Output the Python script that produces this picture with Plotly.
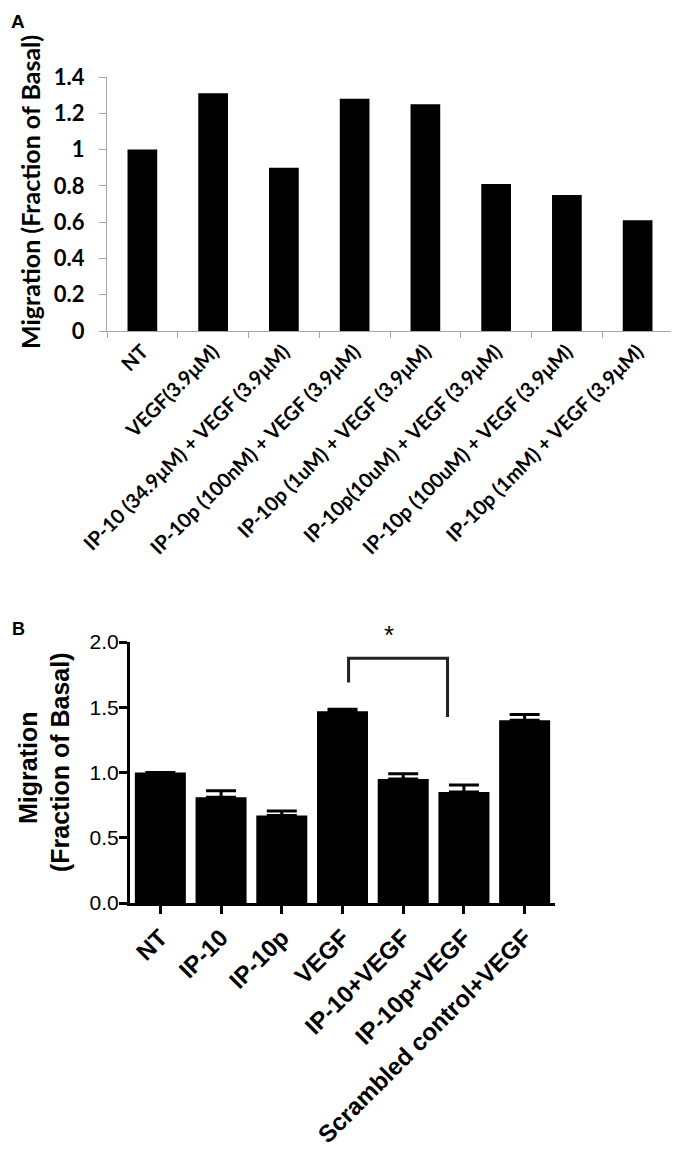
import plotly.graph_objects as go

# ---------------- data ----------------
cats_a = ["NT", "VEGF(3.9μM)", "IP-10 (34.9μM) + VEGF (3.9μM)",
          "IP-10p (100nM) + VEGF (3.9μM)", "IP-10p (1uM) + VEGF (3.9μM)",
          "IP-10p(10uM) + VEGF (3.9μM)", "IP-10p (100uM) + VEGF (3.9μM)",
          "IP-10p (1mM) + VEGF (3.9μM)"]
vals_a = [1.00, 1.31, 0.90, 1.28, 1.25, 0.81, 0.75, 0.61]
ticks_a = [0, 0.2, 0.4, 0.6, 0.8, 1, 1.2, 1.4]
ticklabels_a = ["0", "0.2", "0.4", "0.6", "0.8", "1", "1.2", "1.4"]

cats_b = ["NT", "IP-10", "IP-10p", "VEGF", "IP-10+VEGF", "IP-10p+VEGF",
          "Scrambled control+VEGF"]
vals_b = [1.00, 0.81, 0.67, 1.47, 0.95, 0.85, 1.40]
err_b = [None, 0.05, 0.035, 0.015, 0.04, 0.055, 0.045]
ticks_b = [0, 0.5, 1.0, 1.5, 2.0]

# significance bracket (VEGF vs IP-10p+VEGF), in data units of panel B
br_x0, br_x1 = 3.1, 4.73
br_top, br_left_bot, br_right_bot = 1.875, 1.69, 1.425
star_x, star_y = 3.76, 2.05

# ---------------- layout geometry (page pixels) ----------------
OFF = 8                      # default body margin of the html page
PAGE_W, PAGE_H = 679, 1151
W, H = PAGE_W - OFF, PAGE_H - OFF
PA = dict(left=107, right=673, top=77, bottom=331)
PB = dict(left=130, right=555, top=642, bottom=903)

def px(x):
    return (x - OFF) / W
def py(y):
    return 1 - (y - OFF) / H
def xd(p):
    return [px(p["left"]), px(p["right"])]
def yd(p):
    return [py(p["bottom"]), py(p["top"])]

fig = go.Figure()

# ---------------- panel A ----------------
fig.add_trace(go.Bar(x=cats_a, y=vals_a, marker=dict(color="black", line=dict(width=0)),
                     width=0.42, xaxis="x", yaxis="y", showlegend=False))

# ---------------- panel B ----------------
fig.add_trace(go.Bar(x=cats_b, y=vals_b, marker=dict(color="black", line=dict(width=0)),
                     width=0.84, xaxis="x2", yaxis="y2", showlegend=False,
                     error_y=dict(type="data", array=err_b, arrayminus=[0]*len(err_b),
                                  symmetric=False, color="black", thickness=3, width=15)))

fontA = "Lato, Carlito, Calibri, sans-serif"
fontB = "Liberation Sans, Arial, sans-serif"

fig.update_layout(
    width=W, height=H, margin=dict(l=0, r=0, t=0, b=0, autoexpand=False),
    paper_bgcolor="white", plot_bgcolor="white",
    xaxis=dict(domain=xd(PA), anchor="y", type="category", automargin=False,
               showline=True, linecolor="#a6a6a6", linewidth=1,
               ticks="outside", tickson="boundaries", ticklen=6, tickcolor="#a6a6a6",
               tickangle=-45, showgrid=False,
               tickfont=dict(family=fontA, size=20, color="black", weight="bold")),
    yaxis=dict(domain=yd(PA), anchor="x", range=[0, 1.4], automargin=False,
               tickvals=ticks_a, ticktext=ticklabels_a,
               showline=True, linecolor="#a6a6a6", linewidth=1,
               ticks="outside", ticklen=7, tickcolor="#a6a6a6", showgrid=False,
               zeroline=False, ticklabelstandoff=10,
               tickfont=dict(family=fontA, size=22, color="black", weight="bold")),
    xaxis2=dict(domain=xd(PB), anchor="y2", type="category", automargin=False,
                showline=True, linecolor="black", linewidth=3,
                ticks="outside", ticklen=8, tickwidth=3, tickcolor="black",
                tickangle=-45, showgrid=False,
                tickfont=dict(family=fontB, size=24, color="black", weight="bold")),
    yaxis2=dict(domain=yd(PB), anchor="x2", range=[0, 2.0], automargin=False,
                tickvals=ticks_b, tickformat=".1f",
                showline=True, linecolor="black", linewidth=3,
                ticks="outside", ticklen=8, tickwidth=3, tickcolor="black",
                showgrid=False, zeroline=False, ticklabelstandoff=-4,
                tickfont=dict(family=fontB, size=21, color="black")),
)

# y-axis titles
fig.add_annotation(x=px(30), y=py(192), xref="paper", yref="paper",
                   text="<b>Migration (Fraction of Basal)</b>", textangle=-90,
                   showarrow=False, xanchor="center", yanchor="middle",
                   font=dict(family=fontA, size=25, color="black"))
fig.add_annotation(x=px(28), y=py(768), xref="paper", yref="paper",
                   text="<b>Migration</b>", textangle=-90,
                   showarrow=False, xanchor="center", yanchor="middle",
                   font=dict(family=fontB, size=25, color="black"))
fig.add_annotation(x=px(60), y=py(763), xref="paper", yref="paper",
                   text="<b>(Fraction of Basal)</b>", textangle=-90,
                   showarrow=False, xanchor="center", yanchor="middle",
                   font=dict(family=fontB, size=25, color="black"))

# bracket
fig.add_shape(type="path", xref="x2", yref="y2",
              path=f"M {br_x0} {br_left_bot} L {br_x0} {br_top} L {br_x1} {br_top} L {br_x1} {br_right_bot}",
              line=dict(color="#222222", width=3))
ydB = yd(PB)
star_paper_y = ydB[0] + star_y / 2.0 * (ydB[1] - ydB[0])
fig.add_annotation(x=star_x, y=star_paper_y, xref="x2", yref="paper", text="*", showarrow=False,
                   font=dict(family=fontB, size=26, color="black"))

# panel letters
fig.add_annotation(x=px(10), y=py(10), xref="paper", yref="paper", text="<b>A</b>",
                   showarrow=False, xanchor="left", yanchor="top", borderpad=0,
                   font=dict(family=fontB, size=19, color="black"))
fig.add_annotation(x=px(18), y=py(629), xref="paper", yref="paper", text="<b>B</b>",
                   showarrow=False, xanchor="center", yanchor="middle",
                   font=dict(family=fontB, size=18, color="black"))

fig.write_html("out.html")
